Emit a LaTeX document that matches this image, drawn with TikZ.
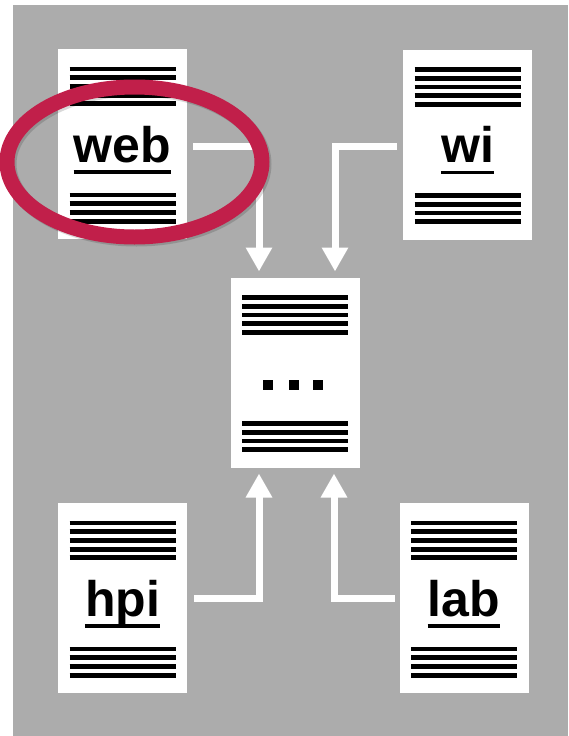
\documentclass[tikz,border=0pt]{standalone}
\usepackage{fontspec}
\setmainfont{Liberation Sans}
\usetikzlibrary{arrows.meta,calc}
\definecolor{bggray}{RGB}{172,172,172}
\definecolor{ringred}{RGB}{193,31,74}
\tikzset{
 doc/.style={fill=white, draw=none, minimum width=129pt, minimum height=190pt, inner sep=0pt, outer sep=0pt},
 docline/.style={line width=4.8pt, black},
 lbl/.style={font=\bfseries\fontsize{50}{50}\selectfont, inner sep=0pt, anchor=base},
 uline/.style={line width=3.4pt, black},
 conn/.style={white, line width=7pt, -{Triangle[width=25pt,length=24pt]}, shorten >=6pt},
 dotsq/.style={fill=black, minimum size=10pt, inner sep=0pt},
 ring/.style={ringred, line width=15pt}
}
\newcommand\docrules[1]{%
 \foreach \dy in {20,28.7,37.4,46.1,54.8,146,154.7,163.4,172.1}{%
  \draw[docline] ([xshift=-53pt,yshift=-\dy pt]#1.north) -- ([xshift=53pt,yshift=-\dy pt]#1.north);}}
\newcommand\doclabel[2]{%
 \node[lbl] (#1t) at ([yshift=-113pt]#1.north) {#2};
 \draw[uline] ([yshift=-10pt]#1t.base west) -- ([yshift=-10pt]#1t.base east);}
\begin{document}
\begin{tikzpicture}[x=1pt,y=-1pt]
\useasboundingbox (0,0) rectangle (568,736);
\fill[bggray] (13,5) rectangle (568,736);
\node[doc] (web) at (122.5,144) {};
\node[doc] (wi) at (467.5,144.5) {};
\node[doc] (ctr) at (295,372.5) {};
\node[doc] (hpi) at (122.5,598) {};
\node[doc] (lab) at (464,598) {};
\docrules{web}\docrules{wi}\docrules{ctr}\docrules{hpi}\docrules{lab}
\doclabel{web}{web}
\doclabel{wi}{wi}
\doclabel{hpi}{hpi}
\doclabel{lab}{lab}
\node[dotsq] (d1) at (268,385) {};
\node[dotsq] (d2) at (294,385) {};
\node[dotsq] (d3) at (318,385) {};
\draw[conn] ([xshift=6pt,yshift=-2pt]web.east) -| ([xshift=-36pt]ctr.north);
\draw[conn] ([xshift=-6pt,yshift=-2pt]wi.west) -| ([xshift=40pt]ctr.north);
\draw[conn] ([xshift=7pt]hpi.east) -| ([xshift=-36pt]ctr.south);
\draw[conn] ([xshift=-5pt]lab.west) -| ([xshift=39pt]ctr.south);
\draw[black, opacity=0.15, line width=15pt] (136.5,164) ellipse [x radius=127.5, y radius=75];
\draw[ring] (134.5,162) ellipse [x radius=127.5, y radius=75];
\end{tikzpicture}
\end{document}
